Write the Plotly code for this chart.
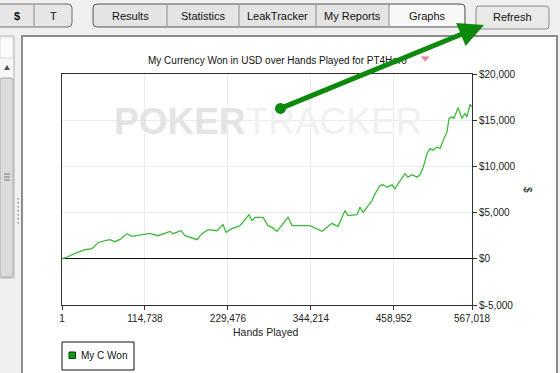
import plotly.graph_objects as go

# ---------------- data ----------------
hands = [1, 8300, 18000, 31800, 41500, 49800, 59500, 66400, 73300, 80200, 89900, 96800,
         110600, 121700, 132800, 149400, 153500, 164600, 170100, 186700, 193600, 201900,
         214400, 222700, 226800, 235100, 246200, 258600, 262800, 266900, 278000, 284900,
         290400, 297300, 312600, 318100, 343000, 359600, 373400, 381700, 391400, 395500,
         408000, 412100, 416300, 428700, 432900, 439800, 443900, 449500, 456400, 460500,
         464700, 474400, 478500, 484100, 491000, 495100, 499300, 504800, 508900, 513100,
         518600, 522800, 528300, 532500, 535200, 539400, 542100, 547700, 553200, 557300,
         560100, 564300, 567018]
won = [0, 220, 580, 980, 1090, 1740, 1960, 2070, 1850, 2100, 2720, 2420,
       2610, 2750, 2500, 2970, 2720, 3040, 2500, 2070, 2720, 3150,
       3040, 3700, 2860, 3260, 3590, 4780, 4130, 4490, 4490, 3590,
       3400, 2970, 4490, 3590, 3590, 2970, 3840, 3480, 5220, 4670,
       4780, 5580, 5030, 6300, 7030, 7930, 8010, 7750, 8010, 7580,
       8120, 9210, 8840, 9100, 8840, 9100, 9820, 11380, 11920, 11740,
       12100, 11920, 13010, 13730, 15190, 15360, 15190, 16340, 15190, 15730,
       15360, 16710, 16450]

x_tickvals = [1, 114738, 229476, 344214, 458952, 567018]
x_ticktext = ["1", "114,738", "229,476", "344,214", "458,952", "567,018"]
y_tickvals = [-5000, 0, 5000, 10000, 15000, 20000]
y_ticktext = ["$-5,000", "$0", "$5,000", "$10,000", "$15,000", "$20,000"]

title_text = "My Currency Won in USD over Hands Played for PT4Hero"
series_name = "My C Won"
tab_labels = ["Results", "Statistics", "LeakTracker", "My Reports", "Graphs"]

# ---------------- layout geometry (pixels) ----------------
W, H = 560, 373
PL, PR, PT, PB = 62, 472, 74, 305   # plot area in pixels


def X(px):
    return (px - PL) / (PR - PL)


def Y(py):
    return (PB - py) / (PB - PT)


FONT = "Liberation Sans, Arial, sans-serif"

shapes = []
annotations = []


def rect(x0, y0, x1, y1, fill, line="#888888", lw=1, layer="below"):
    shapes.append(dict(type="rect", xref="paper", yref="paper",
                       x0=X(x0), x1=X(x1), y0=Y(y1), y1=Y(y0),
                       fillcolor=fill, line=dict(color=line, width=lw), layer=layer))


def rrect(x0, y0, x1, y1, r, fill, line="#707070", lw=1, layer="below"):
    p = (f"M{X(x0 + r)},{Y(y0)} L{X(x1 - r)},{Y(y0)} Q{X(x1)},{Y(y0)} {X(x1)},{Y(y0 + r)} "
         f"L{X(x1)},{Y(y1 - r)} Q{X(x1)},{Y(y1)} {X(x1 - r)},{Y(y1)} "
         f"L{X(x0 + r)},{Y(y1)} Q{X(x0)},{Y(y1)} {X(x0)},{Y(y1 - r)} "
         f"L{X(x0)},{Y(y0 + r)} Q{X(x0)},{Y(y0)} {X(x0 + r)},{Y(y0)} Z")
    shapes.append(dict(type="path", xref="paper", yref="paper", path=p,
                       fillcolor=fill, line=dict(color=line, width=lw), layer=layer))


def vline(x, y0, y1, color, lw=1):
    shapes.append(dict(type="line", xref="paper", yref="paper",
                       x0=X(x), x1=X(x), y0=Y(y0), y1=Y(y1),
                       line=dict(color=color, width=lw), layer="below"))


def text(x, y, s, size=11, color="#111111", xanchor="center", angle=0):
    d = dict(xref="paper", yref="paper", x=X(x), y=Y(y), text=s, showarrow=False,
             xanchor=xanchor, yanchor="middle", textangle=angle,
             font=dict(family=FONT, size=size, color=color))
    annotations.append(d)


# main white panel
rect(22, 36, 557, 380, "#ffffff", line="#8c8c8c", lw=2)

# left sidebar with scrollbar
rect(-2, 36, 14, 278, "#f7f7f7", line="#b4b4b4")
rect(0, 37, 13, 58, "#fbfbfb", line="#d8d8d8")
shapes.append(dict(type="path", xref="paper", yref="paper",
                   path=f"M{X(4)},{Y(70)} L{X(10)},{Y(70)} L{X(7)},{Y(65)} Z",
                   fillcolor="#555555", line=dict(width=0), layer="below"))
rrect(0, 78, 13, 277, 2, "#dcdcdc", line="#a8a8a8")
for gy in (174, 177, 180):
    shapes.append(dict(type="line", xref="paper", yref="paper",
                       x0=X(4), x1=X(10), y0=Y(gy), y1=Y(gy),
                       line=dict(color="#777777", width=1), layer="below"))
for dy in range(198, 224, 4):
    rect(17.5, dy, 19, dy + 1.5, "#9a9a9a", line="#9a9a9a", lw=0)

# top buttons
rrect(-4, 4, 72, 27, 4, "#e6e6e6", line="#6e6e6e")
vline(34, 5, 26, "#8a8a8a")
text(17, 16, "<b>$</b>", size=11)
text(53, 16, "T", size=11)

rrect(93, 4, 465, 27, 4, "#e4e4e4", line="#555555")
rrect(389, 5, 464, 26, 3, "#f8f8f8", line="#f8f8f8", lw=0)
tab_edges = [93, 167, 239, 316, 389, 465]
for e in tab_edges[1:-1]:
    vline(e, 5, 26, "#8a8a8a")
for i, lab in enumerate(tab_labels):
    text((tab_edges[i] + tab_edges[i + 1]) / 2, 16, lab, size=11)

rrect(476, 6, 549, 29, 3, "#e9e9e9", line="#8a8a8a")
text(512.5, 17.5, "Refresh", size=11)

# legend box (manual)
rect(62, 342, 134, 370, "#ffffff", line="#111111", lw=1)
rect(69, 352, 75.5, 358.5, "#119911", line="#0a3a0a", lw=1)
text(79, 355.5, series_name, size=10, xanchor="left")

# pink marker after title
shapes.append(dict(type="path", xref="paper", yref="paper",
                   path=f"M{X(421)},{Y(56.5)} L{X(429.5)},{Y(56.5)} L{X(425.2)},{Y(61.5)} Z",
                   fillcolor="#ec7f98", line=dict(color="#f2b8c6", width=1), layer="above"))

# watermark
annotations.append(dict(xref="paper", yref="paper", x=X(268), y=Y(121),
                        text="<b><span style='color:#e4e4e4'>POKER</span></b>"
                             "<span style='color:#f1f1f1'>TRACKER</span>",
                        showarrow=False, xanchor="center", yanchor="middle",
                        font=dict(family="Liberation Sans Narrow, Liberation Sans, Arial", size=37)))

# title and axis titles
text(277.5, 60, title_text, size=10, color="#111111")
text(265.5, 332, "Hands Played", size=10.5, color="#222222")
text(528, 190, "$", size=10, color="#222222", angle=90)

# green arrow from dot to Refresh button
annotations.append(dict(xref="paper", yref="paper", x=X(484), y=Y(25),
                        ax=279 - 484, ay=109 - 25, axref="pixel", ayref="pixel",
                        text="", showarrow=True, arrowside="end+start",
                        arrowhead=2, arrowsize=1.0, startarrowhead=6, startarrowsize=0.55,
                        arrowwidth=5, arrowcolor="#0d8a0d"))

fig = go.Figure()
fig.add_trace(go.Scatter(x=hands, y=won, mode="lines", name=series_name,
                         line=dict(color="#3cb93c", width=1.3), showlegend=False))

fig.update_layout(
    width=W, height=H,
    margin=dict(l=PL, r=W - PR, t=PT, b=H - PB, pad=0),
    paper_bgcolor="#f0f0f0", plot_bgcolor="rgba(0,0,0,0)",
    font=dict(family=FONT, size=10, color="#222222"),
    shapes=shapes, annotations=annotations,
    xaxis=dict(range=[1, 567018], tickvals=x_tickvals, ticktext=x_ticktext,
               showgrid=True, gridcolor="#ebebeb", gridwidth=1,
               showline=True, linecolor="#333333", linewidth=1, mirror=True,
               ticks="outside", ticklen=4, tickcolor="#333333", zeroline=False,
               tickfont=dict(family=FONT, size=10, color="#222222")),
    yaxis=dict(range=[-5000, 20000], tickvals=y_tickvals, ticktext=y_ticktext,
               side="right", showgrid=True, gridcolor="#ebebeb", gridwidth=1,
               showline=True, linecolor="#333333", linewidth=1, mirror=True,
               ticks="outside", ticklen=4, tickcolor="#333333",
               zeroline=True, zerolinecolor="#111111", zerolinewidth=1,
               tickfont=dict(family=FONT, size=10, color="#222222")),
)

fig.write_html("out.html", config={"displayModeBar": False},
               post_script="document.body.style.margin='0';document.body.style.overflow='hidden';")
